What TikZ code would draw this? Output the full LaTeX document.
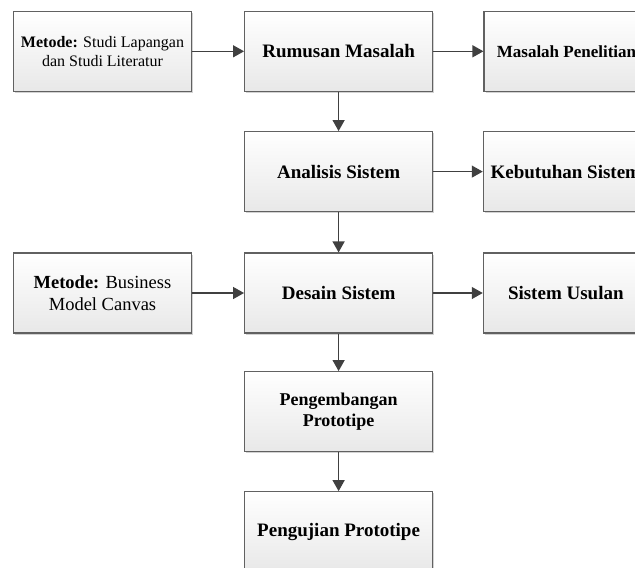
\documentclass[tikz,border=0pt]{standalone}
\usepackage{fontspec}
\setmainfont{Liberation Serif}
\usetikzlibrary{arrows.meta,shadows}
\begin{document}
\begin{tikzpicture}[x=1pt,y=-1pt,
  stepbox/.style={draw=black!62, line width=1.1pt, top color=white, bottom color=black!9,
    minimum width=188pt, minimum height=80pt, inner sep=0pt, align=center,
    font=\fontsize{19}{22}\selectfont\bfseries,
    drop shadow={shadow xshift=1.6pt, shadow yshift=-1.6pt, fill=black!35, opacity=0.5}},
  sidebox/.style={stepbox, minimum width=178pt},
  outbox/.style={stepbox, minimum width=165pt},
  flow/.style={draw=black!75, line width=1.3pt, -{Triangle[length=11pt,width=12pt]}}]

\useasboundingbox (0,0) rectangle (635,568);
\clip (0,0) rectangle (635,568);

% inputs (left column)
\node[sidebox, font=\fontsize{16}{19}\selectfont] (metode1) at (102.5,51.3)
  {\textbf{Metode:} Studi Lapangan\\dan Studi Literatur};
\node[sidebox, font=\fontsize{18.5}{22}\selectfont] (metode2) at (102.5,293)
  {\textbf{Metode:} Business\\Model Canvas};

% main steps (middle column)
\node[stepbox] (rumusan) at (338.6,51.3) {Rumusan Masalah};
\node[stepbox] (analisis) at (338.6,171.6) {Analisis Sistem};
\node[stepbox] (desain) at (338.6,293) {Desain Sistem};
\node[stepbox, font=\fontsize{18}{21.5}\selectfont\bfseries] (pengembangan) at (338.6,411.6)
  {Pengembangan\\Prototipe};
\node[stepbox] (pengujian) at (338.6,531.7) {Pengujian Prototipe};

% outputs (right column)
\node[outbox, font=\fontsize{17}{20}\selectfont\bfseries] (masalah) at (566.5,51.3) {Masalah Penelitian};
\node[outbox] (kebutuhan) at (565.8,171.6) {Kebutuhan Sistem};
\node[outbox] (usulan) at (565.8,293) {Sistem Usulan};

% connectors
\draw[flow] (metode1) -- (rumusan);
\draw[flow] (metode2) -- (desain);
\draw[flow] (rumusan) -- (masalah);
\draw[flow] (analisis) -- (kebutuhan);
\draw[flow] (desain) -- (usulan);
\draw[flow] (rumusan) -- (analisis);
\draw[flow] (analisis) -- (desain);
\draw[flow] (desain) -- (pengembangan);
\draw[flow] (pengembangan) -- (pengujian);
\end{tikzpicture}
\end{document}
